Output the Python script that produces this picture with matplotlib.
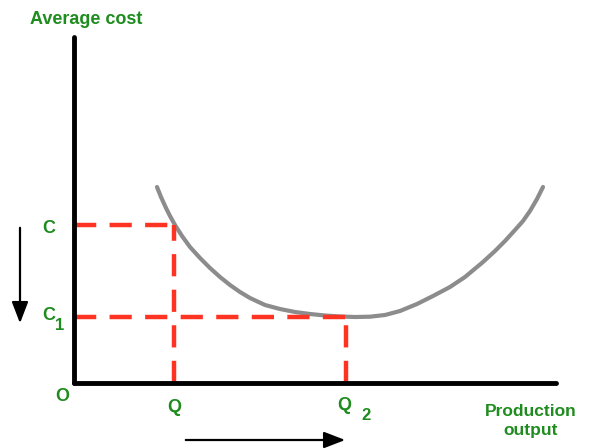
import matplotlib.pyplot as plt

# curve (output, cost), origin at the axes corner
curve_x = [83, 87, 92, 96, 101, 108, 116, 126, 136, 146, 156, 166, 176, 191, 206, 221,
           236, 251, 266, 281, 296, 311, 326, 343, 359, 376, 391, 409, 421, 431, 441, 449,
           456, 463, 469]
curve_y = [196, 186, 175, 167, 158, 147, 136, 125, 115, 106, 98, 91, 85, 78, 74, 71,
           69, 67.5, 66.5, 66, 66.3, 68, 72, 79, 87, 96, 106, 121, 132, 142, 153, 162,
           172, 184, 196]

q_vals = [100, 272]
c_vals = [158, 66]

green = "#1f8c1f"
red = "#ff3322"

plt.rcParams["font.family"] = ["Liberation Sans", "DejaVu Sans"]

fig = plt.figure(figsize=(5.9, 4.48), dpi=100)
ax = fig.add_axes([0, 0, 1, 1])
ax.set_xlim(-74, 516)
ax.set_ylim(-65, 383)
ax.axis("off")

# cost curve
ax.plot(curve_x, curve_y, color="#8c8c8c", lw=3, solid_capstyle="round",
        solid_joinstyle="round", zorder=2)

# dashed guides
for q, c in zip(q_vals, c_vals):
    ax.plot([0, q], [c, c], color=red, lw=3.2, ls=(0, (5, 3)), zorder=3)
    ax.plot([q, q], [0, c], color=red, lw=3.2, ls=(0, (5, 3)), zorder=3)

# axes
ax.plot([0, 0], [0, 346], color="black", lw=3.5, solid_capstyle="round", zorder=4)
ax.plot([0, 482], [0, 0], color="black", lw=3.5, solid_capstyle="round", zorder=4)

fs = 13
kw = dict(color=green, fontsize=fs, fontweight="bold", ha="center", va="center")
ax.text(12, 364, "Average cost", **kw)
ax.text(-12, -13, "O", **kw)
ax.text(-25, 155, "C", **kw)
ax.text(-25, 68, "C", **kw)
ax.text(-14, 58, "1", color=green, fontsize=12, fontweight="bold", ha="center", va="center")
ax.text(100, -24, "Q", **kw)
ax.text(270, -22, "Q", **kw)
ax.text(292, -32, "2", color=green, fontsize=12, fontweight="bold", ha="center", va="center")
ax.text(457, -38, "Production\noutput", color=green, fontsize=12.5, fontweight="bold",
        ha="center", va="center", linespacing=1.35)

# direction arrows
ax.annotate("", xy=(-54, 57), xytext=(-54, 158),
            arrowprops=dict(arrowstyle="-|>,head_width=0.5,head_length=1.3", color="black", lw=1.6))
ax.annotate("", xy=(274, -57), xytext=(109, -57),
            arrowprops=dict(arrowstyle="-|>,head_width=0.5,head_length=1.3", color="black", lw=1.6))

fig.savefig("out.png", dpi=100)
